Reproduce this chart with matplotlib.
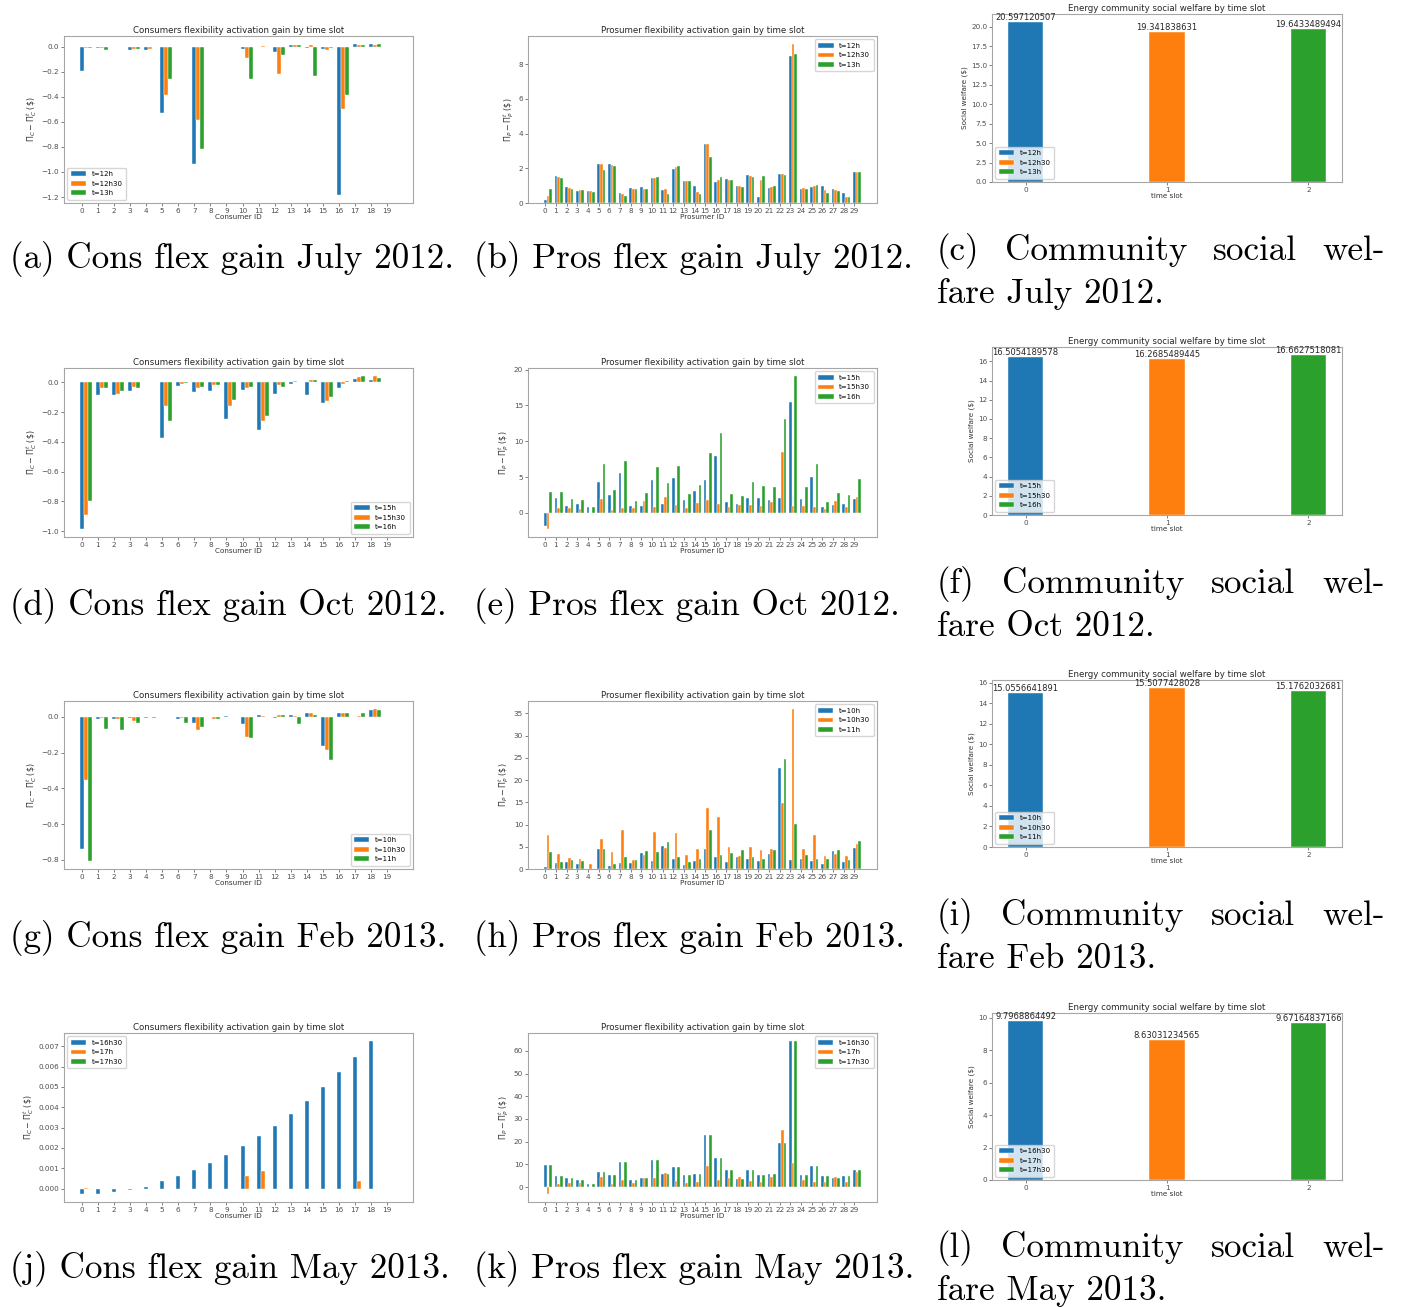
import numpy as np
import matplotlib
matplotlib.use("Agg")
import matplotlib.pyplot as plt

# ---------------- data ----------------
consumer_ids = list(range(20))
prosumer_ids = list(range(30))
welfare_slots = [0, 1, 2]

# July 2012
cons_jul_labels = ["t=12h", "t=12h30", "t=13h"]
cons_jul_12h = [-0.197, -0.01, -0.003, -0.03, -0.03, -0.53, -0.002, -0.935, -0.002, -0.001,
                -0.02, 0.0, -0.045, 0.012, -0.01, -0.02, -1.187, 0.025, 0.025, 0.0]
cons_jul_12h30 = [-0.01, -0.01, -0.003, -0.02, -0.02, -0.385, -0.002, -0.587, -0.002, -0.001,
                  -0.09, 0.005, -0.218, 0.012, 0.015, -0.03, -0.497, 0.015, 0.015, 0.0]
cons_jul_13h = [-0.01, -0.027, -0.003, -0.02, -0.005, -0.26, -0.002, -0.82, -0.002, -0.001,
                -0.26, -0.002, -0.065, 0.01, -0.232, -0.01, -0.385, 0.015, 0.025, 0.0]
pros_jul_12h = [0.17, 1.58, 0.9, 0.72, 0.67, 2.25, 2.25, 0.57, 0.85, 0.9,
                1.45, 0.75, 1.97, 1.28, 0.97, 3.42, 1.23, 1.37, 0.98, 1.6,
                0.35, 0.88, 1.67, 8.46, 0.82, 0.92, 0.98, 0.82, 0.57, 1.78]
pros_jul_12h30 = [0.42, 1.52, 0.87, 0.75, 0.68, 2.25, 2.2, 0.5, 0.83, 0.83,
                  1.43, 0.8, 2.05, 1.28, 0.65, 3.38, 1.32, 1.35, 0.98, 1.55,
                  1.33, 0.92, 1.65, 9.17, 0.85, 0.97, 0.75, 0.75, 0.35, 1.78]
pros_jul_13h = [0.78, 1.45, 0.82, 0.75, 0.62, 1.88, 2.15, 0.42, 0.8, 0.82,
                1.5, 0.53, 2.12, 1.25, 0.53, 2.68, 1.5, 1.35, 0.95, 1.48,
                1.55, 0.98, 1.62, 8.6, 0.82, 1.02, 0.55, 0.7, 0.33, 1.78]
welfare_jul = [20.597120507, 19.341838631, 19.6433489494]
welfare_jul_text = ["20.597120507", "19.341838631", "19.6433489494"]

# October 2012
cons_oct_labels = ["t=15h", "t=15h30", "t=16h"]
cons_oct_15h = [-0.987, -0.084, -0.083, -0.055, 0.0, -0.373, -0.022, -0.062, -0.057, -0.249,
                -0.05, -0.321, -0.075, -0.01, -0.088, -0.136, -0.036, 0.025, 0.018, 0.0]
cons_oct_15h30 = [-0.894, -0.04, -0.075, -0.03, 0.0, -0.156, -0.012, -0.035, -0.02, -0.158,
                  -0.04, -0.262, -0.02, 0.01, 0.018, -0.122, -0.012, 0.035, 0.045, 0.0]
cons_oct_16h = [-0.794, -0.035, -0.058, -0.035, 0.0, -0.262, -0.003, -0.03, -0.02, -0.118,
                -0.03, -0.224, -0.028, 0.005, 0.018, -0.1, 0.008, 0.04, 0.03, 0.0]
pros_oct_15h = [-1.83, 2.07, 1.0, 1.2, 0.8, 4.27, 2.55, 5.6, 0.9, 0.9,
                4.65, 1.3, 4.83, 1.85, 3.1, 4.6, 7.89, 1.5, 1.25, 2.1,
                2.05, 1.85, 2.05, 15.5, 1.9, 4.98, 0.8, 1.1, 1.3, 1.9]
pros_oct_15h30 = [-2.3, 0.7, 0.7, 0.55, 0.0, 1.93, 0.35, 0.7, 0.7, 1.7,
                  0.78, 2.2, 1.1, 0.7, 1.35, 1.75, 1.3, 0.8, 1.1, 1.1,
                  0.9, 1.5, 8.5, 0.95, 0.95, 0.8, 0.55, 1.7, 0.75, 2.2]
pros_oct_16h = [2.96, 2.9, 2.0, 1.85, 0.8, 6.76, 3.2, 7.18, 1.7, 2.72,
                6.38, 4.15, 6.52, 2.6, 3.9, 8.4, 11.08, 2.7, 2.35, 4.3,
                3.7, 3.55, 13.15, 19.15, 3.6, 6.85, 1.55, 2.8, 2.45, 4.7]
welfare_oct = [16.5054189578, 16.2685489445, 16.6627518081]
welfare_oct_text = ["16.5054189578", "16.2685489445", "16.6627518081"]

# February 2013
cons_feb_labels = ["t=10h", "t=10h30", "t=11h"]
cons_feb_10h = [-0.74, -0.013, -0.012, -0.008, -0.008, 0.0, -0.012, -0.035, -0.003, 0.003,
                -0.04, 0.008, -0.008, 0.012, 0.018, -0.165, 0.018, 0.0, 0.035, 0.0]
cons_feb_10h30 = [-0.352, -0.008, -0.015, -0.025, 0.0, 0.0, -0.01, -0.075, -0.015, 0.0,
                  -0.115, 0.005, 0.008, 0.005, 0.018, -0.184, 0.02, 0.002, 0.045, 0.0]
cons_feb_11h = [-0.808, -0.067, -0.075, -0.035, -0.005, 0.0, -0.035, -0.06, -0.012, -0.003,
                -0.12, -0.002, 0.01, -0.04, 0.012, -0.242, 0.022, 0.018, 0.035, 0.0]
pros_feb_10h = [0.4, 1.35, 1.55, 1.15, 0.0, 4.45, 0.75, 1.4, 1.4, 3.55,
                1.75, 5.2, 2.25, 0.85, 1.8, 4.45, 2.7, 1.6, 2.75, 2.2,
                1.9, 3.3, 22.7, 2.05, 2.3, 1.75, 1.1, 4.15, 1.6, 4.75]
pros_feb_10h30 = [7.75, 3.4, 2.45, 2.25, 1.15, 6.75, 3.85, 8.7, 2.05, 3.1,
                  8.35, 4.7, 8.2, 3.25, 4.4, 13.75, 11.65, 5.0, 2.85, 5.0,
                  4.25, 4.5, 14.8, 36.0, 4.45, 7.55, 2.9, 3.45, 2.95, 5.6]
pros_feb_11h = [3.85, 1.6, 2.0, 1.8, 0.05, 4.45, 1.1, 2.7, 2.0, 4.15,
                3.75, 6.1, 2.6, 1.6, 2.3, 8.85, 3.1, 3.6, 4.35, 2.6,
                2.3, 4.3, 24.7, 10.07, 3.15, 2.25, 2.25, 4.3, 2.0, 6.25]
welfare_feb = [15.0556641891, 15.5077428028, 15.1762032681]
welfare_feb_text = ["15.0556641891", "15.5077428028", "15.1762032681"]

# May 2013
cons_may_labels = ["t=16h30", "t=17h", "t=17h30"]
cons_may_16h30 = [-0.00028, -0.00027, -0.00018, -0.00005, 0.0001, 0.00035, 0.0006, 0.0009, 0.00125, 0.00165,
                  0.0021, 0.0026, 0.0031, 0.00369, 0.00432, 0.005, 0.00571, 0.00647, 0.00727, 0.0]
cons_may_17h = [0.00001, 0.0, 0.0, 0.0, 0.0, 0.0, 0.0, 0.0, 0.0, 0.0,
                0.00061, 0.00089, 0.0, 0.0, 0.0, 0.0, 0.0, 0.00036, 0.0, 0.0]
cons_may_17h30 = [0.0] * 20
pros_may_16h30 = [9.5, 4.7, 3.8, 3.2, 1.5, 6.8, 5.1, 11.0, 2.9, 3.9,
                  12.0, 5.9, 9.0, 5.3, 5.8, 22.8, 12.6, 7.7, 3.5, 7.5,
                  5.1, 5.6, 19.6, 64.5, 5.5, 9.1, 5.0, 4.1, 4.9, 7.4]
pros_may_17h = [-3.2, 1.5, 2.0, 2.0, 0.0, 4.6, 1.2, 2.9, 2.0, 4.2,
                3.9, 6.4, 2.7, 1.7, 2.3, 9.2, 3.3, 3.9, 4.5, 2.7,
                2.4, 4.3, 25.0, 10.4, 3.3, 2.4, 2.4, 4.4, 2.1, 6.6]
pros_may_17h30 = [9.5, 4.7, 3.8, 3.2, 1.5, 6.8, 5.1, 11.0, 2.9, 3.9,
                  12.0, 5.9, 9.0, 5.3, 5.8, 22.8, 12.6, 7.7, 3.5, 7.5,
                  5.1, 5.6, 19.6, 64.5, 5.5, 9.1, 5.0, 4.1, 4.9, 7.4]
welfare_may = [9.7968864492, 8.63031234565, 9.67164837166]
welfare_may_text = ["9.7968864492", "8.63031234565", "9.67164837166"]

captions = [
    ["(a) Cons flex gain July 2012.", "(b) Pros flex gain July 2012.", ["(c)", "Community", "social", "wel-"], "fare July 2012."],
    ["(d) Cons flex gain Oct 2012.", "(e) Pros flex gain Oct 2012.", ["(f)", "Community", "social", "wel-"], "fare Oct 2012."],
    ["(g) Cons flex gain Feb 2013.", "(h) Pros flex gain Feb 2013.", ["(i)", "Community", "social", "wel-"], "fare Feb 2013."],
    ["(j) Cons flex gain May 2013.", "(k) Pros flex gain May 2013.", ["(l)", "Community", "social", "wel-"], "fare May 2013."],
]

# ---------------- style ----------------
plt.rcParams['font.family'] = ['DejaVu Sans']
plt.rcParams['axes.edgecolor'] = '0.65'
plt.rcParams['axes.linewidth'] = 0.8
plt.rcParams['xtick.color'] = '0.3'
plt.rcParams['ytick.color'] = '0.3'
plt.rcParams['xtick.major.size'] = 2
plt.rcParams['ytick.major.size'] = 2
plt.rcParams['xtick.major.width'] = 0.5
plt.rcParams['ytick.major.width'] = 0.5
plt.rcParams['xtick.major.pad'] = 1.5
plt.rcParams['ytick.major.pad'] = 1.5

TICK = 5.2
TITLE = 6.2
LABEL = 5.2
YLABEL = 5.8
LEG = 5.0
VAL = 6.0

W, H = 1401, 1307
fig = plt.figure(figsize=(W / 100, H / 100), dpi=100)


def px_axes(left, top, right, bottom):
    return fig.add_axes([left / W, 1 - bottom / H, (right - left) / W, (bottom - top) / H])


def grouped(ax, ids, series, labels, title, xlabel, ylabel, loc):
    x = np.arange(len(ids))
    w = 0.25
    for i, (vals, lab) in enumerate(zip(series, labels)):
        ax.bar(x + i * w, vals, w, label=lab, color=f'C{i}', edgecolor='white', linewidth=0.3)
    ax.set_xticks(x)
    ax.set_xticklabels([str(i) for i in ids])
    ax.tick_params(labelsize=TICK)
    ax.set_title(title, fontsize=TITLE, pad=2, color='0.15')
    ax.set_xlabel(xlabel, fontsize=LABEL, labelpad=0, color='0.2')
    ax.set_ylabel(ylabel, fontsize=YLABEL, labelpad=2, color='0.2')
    ax.legend(loc=loc, fontsize=LEG, handlelength=2.2, borderpad=0.5, labelspacing=0.5)


def welfare(ax, values, texts, labels):
    w = 0.25
    for i, (v, lab) in enumerate(zip(values, labels)):
        ax.bar(welfare_slots[i], v, w, label=lab, color=f'C{i}', edgecolor='white', linewidth=0.3)
        ax.text(welfare_slots[i], v, texts[i], ha='center', va='bottom', fontsize=VAL, color='0.15')
    ax.set_xticks(welfare_slots)
    ax.tick_params(labelsize=TICK)
    ax.set_title("Energy community social welfare by time slot", fontsize=TITLE, pad=2, color='0.15')
    ax.set_xlabel("time slot", fontsize=LABEL, labelpad=0, color='0.2')
    ax.set_ylabel("Social welfare ($)", fontsize=LABEL, labelpad=2, color='0.2')
    ax.legend(loc='lower left', fontsize=LEG, handlelength=2.2, borderpad=0.5, labelspacing=0.5)


cons_ylabel = r'$\Pi_C - \Pi_C^t$ (\$)'
pros_ylabel = r'$\Pi_P - \Pi_P^t$ (\$)'
cons_title = "Consumers flexibility activation gain by time slot"
pros_title = "Prosumer flexibility activation gain by time slot"

rows_ab = [(36, 203), (368, 537), (701, 869), (1033, 1202)]
rows_c = [(14, 182), (347, 515), (680, 847), (1013, 1180)]

cons_data = [
    ([cons_jul_12h, cons_jul_12h30, cons_jul_13h], cons_jul_labels, 'lower left'),
    ([cons_oct_15h, cons_oct_15h30, cons_oct_16h], cons_oct_labels, 'lower right'),
    ([cons_feb_10h, cons_feb_10h30, cons_feb_11h], cons_feb_labels, 'lower right'),
    ([cons_may_16h30, cons_may_17h, cons_may_17h30], cons_may_labels, 'upper left'),
]
pros_data = [
    [pros_jul_12h, pros_jul_12h30, pros_jul_13h],
    [pros_oct_15h, pros_oct_15h30, pros_oct_16h],
    [pros_feb_10h, pros_feb_10h30, pros_feb_11h],
    [pros_may_16h30, pros_may_17h, pros_may_17h30],
]
welfare_data = [
    (welfare_jul, welfare_jul_text),
    (welfare_oct, welfare_oct_text),
    (welfare_feb, welfare_feb_text),
    (welfare_may, welfare_may_text),
]

cap_font = dict(family=['cmr10', 'DejaVu Serif'], fontsize=25.3, color='black')
cap_y = [268, 615, 947, 1278]
capc_y = [(260, 303), (593, 636), (925, 968), (1257, 1300)]
justified = []

for r in range(4):
    top, bot = rows_ab[r]
    series, labels, loc = cons_data[r]
    ax = px_axes(64, top, 413, bot)
    grouped(ax, consumer_ids, series, labels, cons_title, "Consumer ID", cons_ylabel, loc)

    ax = px_axes(528, top, 877, bot)
    grouped(ax, prosumer_ids, pros_data[r], labels, pros_title, "Prosumer ID", pros_ylabel, 'upper right')

    ctop, cbot = rows_c[r]
    ax = px_axes(992, ctop, 1342, cbot)
    welfare(ax, welfare_data[r][0], welfare_data[r][1], labels)

    # captions
    fig.text(10 / W, 1 - cap_y[r] / H, captions[r][0], ha='left', va='baseline', **cap_font)
    fig.text(474 / W, 1 - cap_y[r] / H, captions[r][1], ha='left', va='baseline', **cap_font)
    y1, y2 = capc_y[r]
    words = [fig.text(937 / W, 1 - y1 / H, wd, ha='left', va='baseline', **cap_font)
             for wd in captions[r][2]]
    justified.append(words)
    fig.text(937 / W, 1 - y2 / H, captions[r][3], ha='left', va='baseline', **cap_font)

# justify the first caption line of the right column between x=937 and x=1385
fig.canvas.draw()
renderer = fig.canvas.get_renderer()
for words in justified:
    widths = [t.get_window_extent(renderer).width for t in words]
    gap = (1385 - 937 - sum(widths)) / (len(words) - 1)
    xpos = 937
    for t, wd in zip(words, widths):
        t.set_x(xpos / W)
        xpos += wd + gap

fig.savefig("out.png", dpi=100)
